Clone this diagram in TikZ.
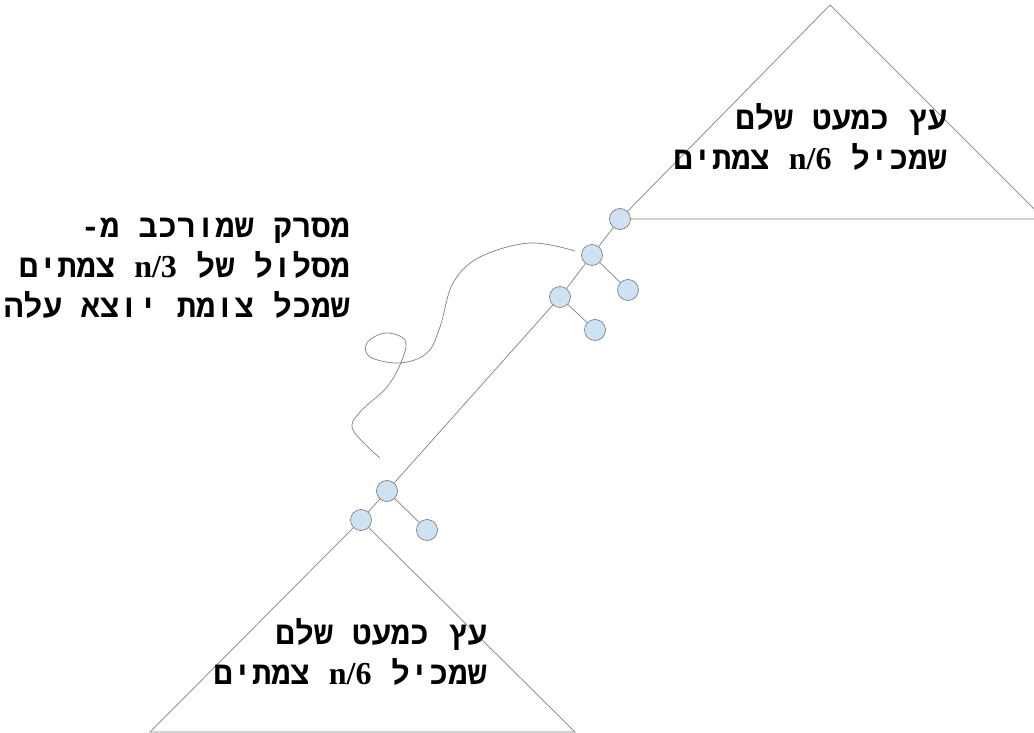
\documentclass[tikz,border=0pt]{standalone}
\usepackage{fontspec}
\TeXXeTstate=1
\newfontfamily\hebfont[Script=Hebrew]{Liberation Mono}
\newfontfamily\latfont{Liberation Serif}
\definecolor{nodeblue}{RGB}{207,226,243}
\definecolor{edgegray}{RGB}{128,128,128}

\begin{document}
\begin{tikzpicture}[x=1pt, y=-1pt,
  vert/.style={draw=edgegray, fill=nodeblue, circle, minimum size=21pt, inner sep=0pt, line width=0.7pt},
  branch/.style={draw=edgegray, line width=0.7pt},
  treetext/.style={align=right, inner sep=0pt, anchor=east, font=\hebfont\bfseries\fontsize{32}{40}\selectfont}]
\useasboundingbox (0,0) rectangle (1034,733);

% corners of the two subtrees
\coordinate (ttop) at (830,5);
\coordinate (tright) at (1044,219);
\coordinate (bleft) at (150,732);
\coordinate (bright) at (575,732);

% the path and its leaves
\node (n1) [vert] at (620,219) {};
\node (n2) [vert] at (592,255) {};
\node (n3) [vert] at (560,297) {};
\node (n4) [vert] at (387,491) {};
\node (n5) [vert] at (361,520) {};
\node (c2) [vert] at (628,290) {};
\node (c3) [vert] at (595,330) {};
\node (c4) [vert] at (427,530) {};

\draw[branch] (n1) -- (ttop) -- (tright) -- (n1);
\draw[branch] (n5) -- (bleft) -- (bright) -- (n5);
\draw[branch] (n1) -- (n2);
\draw[branch] (n2) -- (n3);
\draw[branch] (n3) -- (n4);
\draw[branch] (n4) -- (n5);
\draw[branch] (n2) -- (c2);
\draw[branch] (n3) -- (c3);
\draw[branch] (n4) -- (c4);

% the squiggle along the comb
\draw[branch] plot[smooth, tension=0.6] coordinates {(575,251) (530,243) (480,257) (453,283) (440,327) (427,353) (400,363) (370,357) (367,343) (385,333) (405,340) (402,360) (387,387) (360,412) (353,430) (380,458)};

\node (toptext) [treetext] at (947,137) {\beginR עץ כמעט שלם\endR\\
  \beginR שמכיל \beginL{\latfont\bfseries n/6}\endL{} צמתים\endR};
\node (midtext) [treetext] at (350,268) {\beginR מסרק שמורכב מ-\endR\\
  \beginR מסלול של \beginL{\latfont\bfseries n/3}\endL{} צמתים\endR\\
  \beginR שמכל צומת יוצא עלה\endR};
\node (bottext) [treetext] at (487,652) {\beginR עץ כמעט שלם\endR\\
  \beginR שמכיל \beginL{\latfont\bfseries n/6}\endL{} צמתים\endR};
\end{tikzpicture}
\end{document}
